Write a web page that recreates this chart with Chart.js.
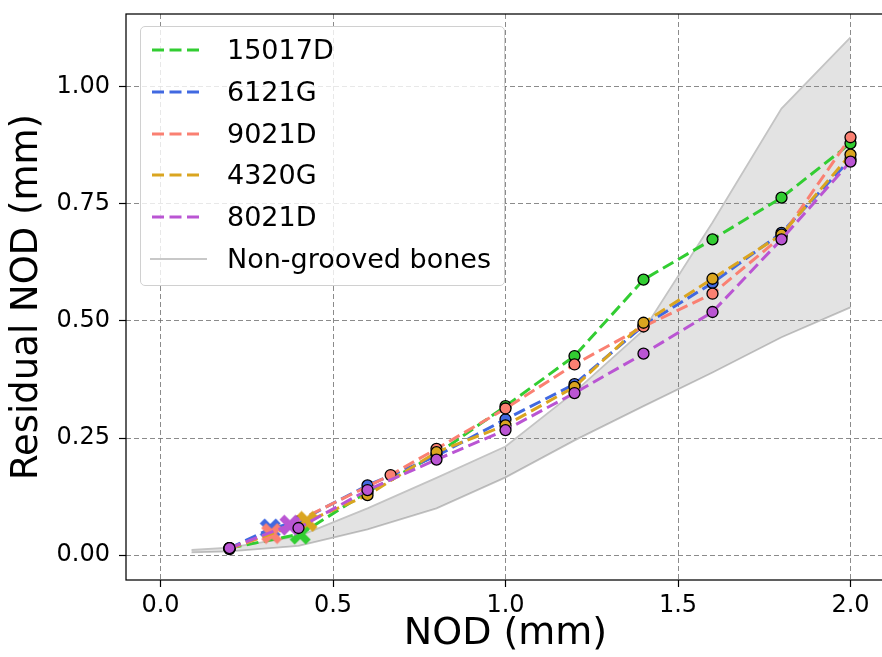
<!DOCTYPE html>
<html>
<head>
<meta charset="utf-8">
<script src="https://cdn.jsdelivr.net/npm/chart.js@4.4.0/dist/chart.umd.min.js"></script>
<style>
  html, body { margin: 0; padding: 0; background: #fff; overflow: hidden; }
  #wrap { position: relative; width: 887px; height: 657px; }
  #legend {
    position: absolute; left: 140px; top: 26px; width: 365px; height: 260px;
    box-sizing: border-box; border: 1px solid #d0d0d0; border-radius: 5px;
    background: rgba(255, 255, 255, 0.8);
    font-family: "DejaVu Sans", sans-serif; font-size: 27px; color: #000;
  }
  #legend .row { position: absolute; left: 0; width: 100%; height: 42px; line-height: 42px; }
  #legend svg { position: absolute; left: 9px; top: 16px; }
  #legend span { position: absolute; left: 86px; top: 0; white-space: nowrap; }
</style>
</head>
<body>
<div id="wrap">
  <canvas id="chart" width="887" height="657"></canvas>
  <div id="legend"></div>
</div>
<script>
// series names and colours
const names = ['15017D', '6121G', '9021D', '4320G', '8021D'];
const colors = ['#32cd32', '#4169e1', '#fa8072', '#daa520', '#ba55d3'];

// NOD (x), residual NOD (y) and marker ('o' circle, 'X' cross) per bone
const nod15017D = [0.2, 0.405, 0.6, 0.8, 1.0, 1.2, 1.4, 1.6, 1.8, 2.0];
const res15017D = [0.015, 0.045, 0.135, 0.215, 0.318, 0.425, 0.588, 0.674, 0.763, 0.879];
const mark15017D = ['o', 'X', 'o', 'o', 'o', 'o', 'o', 'o', 'o', 'o'];

const nod6121G = [0.2, 0.318, 0.4, 0.6, 0.8, 1.0, 1.2, 1.4, 1.6, 1.8, 2.0];
const res6121G = [0.015, 0.056, 0.072, 0.149, 0.212, 0.29, 0.365, 0.49, 0.581, 0.688, 0.845];
const mark6121G = ['o', 'X', 'o', 'o', 'o', 'o', 'o', 'o', 'o', 'o', 'o'];

const nod9021D = [0.2, 0.322, 0.667, 0.8, 1.0, 1.2, 1.4, 1.6, 1.8, 2.0];
const res9021D = [0.013, 0.046, 0.171, 0.227, 0.313, 0.407, 0.488, 0.558, 0.68, 0.892];
const mark9021D = ['o', 'X', 'o', 'o', 'o', 'o', 'o', 'o', 'o', 'o'];

const nod4320G = [0.2, 0.425, 0.6, 0.8, 1.0, 1.2, 1.4, 1.6, 1.8, 2.0];
const res4320G = [0.015, 0.072, 0.128, 0.22, 0.277, 0.359, 0.496, 0.59, 0.684, 0.855];
const mark4320G = ['o', 'X', 'o', 'o', 'o', 'o', 'o', 'o', 'o', 'o'];

const nod8021D = [0.2, 0.375, 0.4, 0.6, 0.8, 1.0, 1.2, 1.4, 1.6, 1.8, 2.0];
const res8021D = [0.015, 0.064, 0.058, 0.139, 0.204, 0.267, 0.346, 0.43, 0.519, 0.674, 0.84];
const mark8021D = ['o', 'X', 'o', 'o', 'o', 'o', 'o', 'o', 'o', 'o', 'o'];

// range of the non-grooved bones
const bandNod = [0.09, 0.2, 0.4, 0.6, 0.8, 1.0, 1.2, 1.4, 1.6, 1.8, 2.0];
const bandUpper = [0.011, 0.016, 0.04, 0.1, 0.165, 0.232, 0.348, 0.48, 0.71, 0.953, 1.105];
const bandLower = [0.006, 0.008, 0.02, 0.055, 0.1, 0.166, 0.245, 0.318, 0.39, 0.465, 0.529];

// axis ticks
const xTicks = [0, 0.5, 1.0, 1.5, 2.0];
const yTicks = [0, 0.25, 0.5, 0.75, 1.0];

const FONT = '"DejaVu Sans", sans-serif';

// filled "X" marker like matplotlib's
function makeCross(color) {
    const c = document.createElement('canvas');
    c.width = 22; c.height = 22;
    const g = c.getContext('2d');
    g.strokeStyle = color;
    g.lineWidth = 7;
    g.lineCap = 'butt';
    g.beginPath();
    g.moveTo(3, 3); g.lineTo(19, 19);
    g.moveTo(19, 3); g.lineTo(3, 19);
    g.stroke();
    return c;
}

function series(i, xs, ys, marks) {
    const cross = makeCross(colors[i]);
    return {
        label: names[i],
        data: xs.map((x, k) => ({ x: x, y: ys[k] })),
        borderColor: colors[i],
        backgroundColor: colors[i],
        borderWidth: 3,
        borderDash: [12, 5.5],
        pointStyle: marks.map(m => m === 'X' ? cross : 'circle'),
        pointRadius: 5.5,
        pointBorderColor: '#000',
        pointBorderWidth: 1.3,
        pointBackgroundColor: colors[i],
        fill: false,
        tension: 0,
        order: 4 - i
    };
}

const datasets = [
    series(0, nod15017D, res15017D, mark15017D),
    series(1, nod6121G, res6121G, mark6121G),
    series(2, nod9021D, res9021D, mark9021D),
    series(3, nod4320G, res4320G, mark4320G),
    series(4, nod8021D, res8021D, mark8021D),
    {
        label: 'Non-grooved bones',
        data: bandNod.map((x, k) => ({ x: x, y: bandUpper[k] })),
        borderColor: '#c4c4c4',
        borderWidth: 1.8,
        pointRadius: 0,
        backgroundColor: 'rgba(128, 128, 128, 0.22)',
        fill: '+1',
        order: 10
    },
    {
        label: 'lower',
        data: bandNod.map((x, k) => ({ x: x, y: bandLower[k] })),
        borderColor: '#c4c4c4',
        borderWidth: 1.8,
        pointRadius: 0,
        fill: false,
        order: 11
    }
];

const frame = {
    id: 'frame',
    afterDraw(chart) {
        const { ctx, chartArea: a } = chart;
        ctx.save();
        ctx.strokeStyle = '#000';
        ctx.lineWidth = 1.25;
        ctx.strokeRect(a.left, a.top, a.right - a.left, a.bottom - a.top);
        ctx.restore();
    }
};

const gridOpts = {
    color: 'rgba(110, 110, 110, 0.8)',
    lineWidth: 1,
    tickColor: '#000',
    tickLength: 7,
    tickWidth: 1.2,
    tickBorderDash: [0, 0]
};

new Chart(document.getElementById('chart'), {
    type: 'line',
    data: { datasets: datasets },
    plugins: [frame],
    options: {
        responsive: false,
        animation: false,
        layout: { autoPadding: false, padding: { top: 14, right: 2, left: 0, bottom: 0 } },
        plugins: {
            legend: { display: false },
            tooltip: { enabled: false }
        },
        scales: {
            x: {
                type: 'linear',
                min: -0.1,
                max: 2.1,
                afterBuildTicks: axis => { axis.ticks = xTicks.map(v => ({ value: v })); },
                afterFit: scale => {
                    scale.height = 77;
                    scale.paddingLeft = 0; scale.paddingRight = 0;
                },
                grid: gridOpts,
                border: { display: false, dash: [5, 3] },
                ticks: {
                    autoSkip: false, maxRotation: 0, padding: 4, color: '#000',
                    font: { family: FONT, size: 24 },
                    callback: v => v.toFixed(1)
                },
                title: {
                    display: true, text: 'NOD (mm)', color: '#000',
                    font: { family: FONT, size: 38 },
                    padding: { top: 0, bottom: 0 }
                }
            },
            y: {
                min: -0.053,
                max: 1.155,
                afterBuildTicks: axis => { axis.ticks = yTicks.map(v => ({ value: v })); },
                afterFit: scale => {
                    scale.width = 126;
                    scale.paddingTop = 0; scale.paddingBottom = 0;
                },
                grid: gridOpts,
                border: { display: false, dash: [5, 3] },
                ticks: {
                    autoSkip: false, padding: 9, color: '#000',
                    font: { family: FONT, size: 24 },
                    callback: v => v.toFixed(2)
                },
                title: {
                    display: true, text: 'Residual NOD (mm)', color: '#000',
                    font: { family: FONT, size: 37 },
                    padding: { top: 5, bottom: 0 }
                }
            }
        }
    }
});

// legend box with matplotlib-style line samples
const legend = document.getElementById('legend');
const rows = names.map((n, i) => ({ name: n, color: colors[i], dash: '12 5.5', width: 3 }));
rows.push({ name: 'Non-grooved bones', color: '#c8c8c8', dash: '', width: 2.2 });
rows.forEach((r, i) => {
    const row = document.createElement('div');
    row.className = 'row';
    row.style.top = (2 + i * 41.8) + 'px';
    const len = r.dash ? 50 : 57;
    row.innerHTML =
        '<svg width="60" height="10"><line x1="' + (r.dash ? 2 : 0) + '" y1="5" x2="' + len +
        '" y2="5" stroke="' + r.color + '" stroke-width="' + r.width + '"' +
        (r.dash ? ' stroke-dasharray="' + r.dash + '"' : '') + '/></svg>' +
        '<span>' + r.name + '</span>';
    legend.appendChild(row);
});
</script>
</body>
</html>
